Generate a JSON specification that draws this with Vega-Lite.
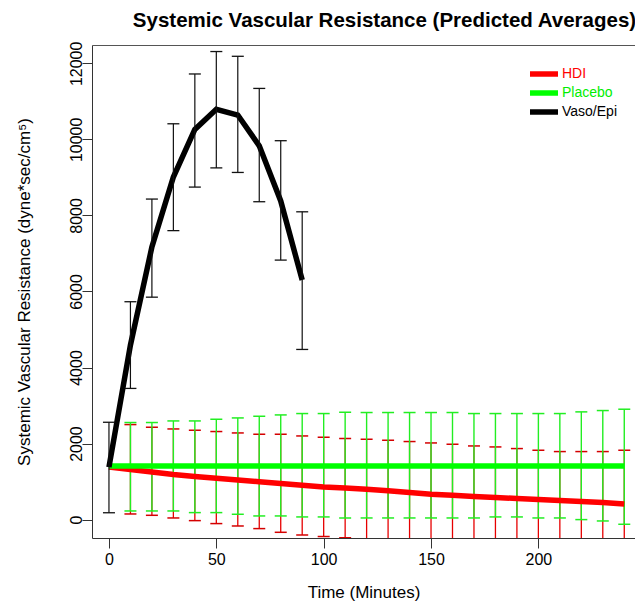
{
  "$schema": "https://vega.github.io/schema/vega-lite/v6.json",
  "autosize": {"type": "none"},
  "padding": {"left": 92, "top": 45, "right": 0, "bottom": 64},
  "width": 543,
  "height": 493,
  "background": "white",
  "title": {"text": "Systemic Vascular Resistance (Predicted Averages)", "fontSize": 20.5, "font": "Liberation Sans", "fontWeight": "bold", "color": "black", "anchor": "middle", "dx": 21, "offset": 10},
  "config": {
    "view": {"stroke": null},
    "axis": {"labelFont": "Liberation Sans", "titleFont": "Liberation Sans", "labelFontSize": 16, "titleFontSize": 17, "titleFontWeight": "normal", "labelColor": "black", "titleColor": "black", "tickColor": "#333", "domainColor": "#333", "tickSize": 10, "grid": false, "labelFlush": false, "labelOverlap": false}
  },
  "datasets": {
    "d": [
      {"group": "HDI", "t": 0, "v": 1380, "lo": null, "hi": null},
      {"group": "HDI", "t": 10, "v": 1316, "lo": 148, "hi": 2499},
      {"group": "HDI", "t": 20, "v": 1253, "lo": 113, "hi": 2429},
      {"group": "HDI", "t": 30, "v": 1184, "lo": 43, "hi": 2384},
      {"group": "HDI", "t": 40, "v": 1135, "lo": -27, "hi": 2350},
      {"group": "HDI", "t": 50, "v": 1090, "lo": -105, "hi": 2316},
      {"group": "HDI", "t": 60, "v": 1040, "lo": -168, "hi": 2279},
      {"group": "HDI", "t": 70, "v": 995, "lo": -237, "hi": 2245},
      {"group": "HDI", "t": 80, "v": 950, "lo": -334, "hi": 2245},
      {"group": "HDI", "t": 90, "v": 905, "lo": -405, "hi": 2200},
      {"group": "HDI", "t": 100, "v": 858, "lo": -445, "hi": 2166},
      {"group": "HDI", "t": 110, "v": 830, "lo": -475, "hi": 2132},
      {"group": "HDI", "t": 120, "v": 800, "lo": -513, "hi": 2113},
      {"group": "HDI", "t": 130, "v": 760, "lo": -567, "hi": 2087},
      {"group": "HDI", "t": 140, "v": 715, "lo": -623, "hi": 2053},
      {"group": "HDI", "t": 150, "v": 665, "lo": -686, "hi": 2016},
      {"group": "HDI", "t": 160, "v": 640, "lo": -702, "hi": 1982},
      {"group": "HDI", "t": 170, "v": 610, "lo": -717, "hi": 1937},
      {"group": "HDI", "t": 180, "v": 580, "lo": -751, "hi": 1911},
      {"group": "HDI", "t": 190, "v": 555, "lo": -758, "hi": 1868},
      {"group": "HDI", "t": 200, "v": 530, "lo": -764, "hi": 1824},
      {"group": "HDI", "t": 210, "v": 505, "lo": -779, "hi": 1789},
      {"group": "HDI", "t": 220, "v": 475, "lo": -839, "hi": 1789},
      {"group": "HDI", "t": 230, "v": 450, "lo": -889, "hi": 1789},
      {"group": "HDI", "t": 240, "v": 410, "lo": -1004, "hi": 1824},
      {"group": "Placebo", "t": 0, "v": 1410, "lo": null, "hi": null},
      {"group": "Placebo", "t": 10, "v": 1410, "lo": 227, "hi": 2553},
      {"group": "Placebo", "t": 20, "v": 1410, "lo": 227, "hi": 2553},
      {"group": "Placebo", "t": 30, "v": 1410, "lo": 227, "hi": 2595},
      {"group": "Placebo", "t": 40, "v": 1410, "lo": 184, "hi": 2595},
      {"group": "Placebo", "t": 50, "v": 1410, "lo": 184, "hi": 2639},
      {"group": "Placebo", "t": 60, "v": 1410, "lo": 140, "hi": 2674},
      {"group": "Placebo", "t": 70, "v": 1410, "lo": 96, "hi": 2718},
      {"group": "Placebo", "t": 80, "v": 1410, "lo": 96, "hi": 2753},
      {"group": "Placebo", "t": 90, "v": 1410, "lo": 70, "hi": 2789},
      {"group": "Placebo", "t": 100, "v": 1410, "lo": 70, "hi": 2789},
      {"group": "Placebo", "t": 110, "v": 1410, "lo": 43, "hi": 2824},
      {"group": "Placebo", "t": 120, "v": 1410, "lo": 43, "hi": 2816},
      {"group": "Placebo", "t": 130, "v": 1410, "lo": 43, "hi": 2816},
      {"group": "Placebo", "t": 140, "v": 1410, "lo": 43, "hi": 2816},
      {"group": "Placebo", "t": 150, "v": 1410, "lo": 43, "hi": 2816},
      {"group": "Placebo", "t": 160, "v": 1410, "lo": 43, "hi": 2816},
      {"group": "Placebo", "t": 170, "v": 1410, "lo": 43, "hi": 2789},
      {"group": "Placebo", "t": 180, "v": 1410, "lo": 70, "hi": 2789},
      {"group": "Placebo", "t": 190, "v": 1410, "lo": 70, "hi": 2789},
      {"group": "Placebo", "t": 200, "v": 1410, "lo": 43, "hi": 2789},
      {"group": "Placebo", "t": 210, "v": 1410, "lo": 43, "hi": 2789},
      {"group": "Placebo", "t": 220, "v": 1410, "lo": 0, "hi": 2833},
      {"group": "Placebo", "t": 230, "v": 1410, "lo": -36, "hi": 2868},
      {"group": "Placebo", "t": 240, "v": 1410, "lo": -123, "hi": 2903},
      {"group": "Vaso/Epi", "t": 0, "v": 1380, "lo": 180, "hi": 2560},
      {"group": "Vaso/Epi", "t": 10, "v": 4590, "lo": 3450, "hi": 5730},
      {"group": "Vaso/Epi", "t": 20, "v": 7170, "lo": 5850, "hi": 8430},
      {"group": "Vaso/Epi", "t": 30, "v": 9010, "lo": 7600, "hi": 10410},
      {"group": "Vaso/Epi", "t": 40, "v": 10260, "lo": 8745, "hi": 11720},
      {"group": "Vaso/Epi", "t": 50, "v": 10790, "lo": 9250, "hi": 12310},
      {"group": "Vaso/Epi", "t": 60, "v": 10640, "lo": 9130, "hi": 12185},
      {"group": "Vaso/Epi", "t": 70, "v": 9830, "lo": 8360, "hi": 11340},
      {"group": "Vaso/Epi", "t": 80, "v": 8380, "lo": 6825, "hi": 9965},
      {"group": "Vaso/Epi", "t": 90, "v": 6300, "lo": 4475, "hi": 8095}
    ]
  },
  "data": {"name": "d"},
  "resolve": {"axis": {"x": "independent"}},
  "layer": [
    {
      "transform": [{"filter": "datum.group == 'HDI' && isValid(datum.lo)"}],
      "mark": {"type": "rule", "color": "#e60000", "strokeWidth": 1.3, "clip": true},
      "encoding": {
        "x": {"field": "t", "type": "quantitative", "scale": {"domain": [-7.9, 245], "nice": false, "zero": false}, "axis": {"orient": "bottom", "values": [0, 50, 100, 150, 200], "title": "Time (Minutes)", "labelPadding": 3, "titlePadding": 17}},
        "y": {"field": "lo", "type": "quantitative", "scale": {"domain": [-484, 12482], "nice": false, "zero": false}, "axis": {"values": [0, 2000, 4000, 6000, 8000, 10000, 12000], "format": "d", "labelAngle": -90, "labelPadding": -2, "title": "Systemic Vascular Resistance (dyne*sec/cm⁵)", "titlePadding": 35}},
        "y2": {"field": "hi"}
      }
    },
    {
      "transform": [{"filter": "datum.group == 'HDI' && isValid(datum.lo)"}],
      "mark": {"type": "tick", "orient": "horizontal", "color": "#d40000", "size": 12, "thickness": 1.5, "opacity": 1, "clip": true},
      "encoding": {
        "x": {"field": "t", "type": "quantitative", "axis": {"orient": "top", "domain": true, "ticks": false, "labels": false, "title": null, "domainColor": "#555"}},
        "y": {"field": "hi", "type": "quantitative"}
      }
    },
    {
      "transform": [{"filter": "datum.group == 'HDI' && isValid(datum.lo)"}],
      "mark": {"type": "tick", "orient": "horizontal", "color": "#d40000", "size": 12, "thickness": 1.5, "opacity": 1, "clip": true},
      "encoding": {
        "x": {"field": "t", "type": "quantitative", "axis": null},
        "y": {"field": "lo", "type": "quantitative"}
      }
    },
    {
      "transform": [{"filter": "datum.group == 'Placebo' && isValid(datum.lo)"}],
      "mark": {"type": "rule", "color": "#22ee22", "strokeWidth": 1.4, "clip": true},
      "encoding": {
        "x": {"field": "t", "type": "quantitative", "axis": null},
        "y": {"field": "lo", "type": "quantitative"},
        "y2": {"field": "hi"}
      }
    },
    {
      "transform": [{"filter": "datum.group == 'Placebo' && isValid(datum.lo)"}],
      "mark": {"type": "tick", "orient": "horizontal", "color": "#22ee22", "size": 12, "thickness": 1.5, "opacity": 1, "clip": true},
      "encoding": {
        "x": {"field": "t", "type": "quantitative", "axis": null},
        "y": {"field": "hi", "type": "quantitative"}
      }
    },
    {
      "transform": [{"filter": "datum.group == 'Placebo' && isValid(datum.lo)"}],
      "mark": {"type": "tick", "orient": "horizontal", "color": "#22ee22", "size": 12, "thickness": 1.5, "opacity": 1, "clip": true},
      "encoding": {
        "x": {"field": "t", "type": "quantitative", "axis": null},
        "y": {"field": "lo", "type": "quantitative"}
      }
    },
    {
      "mark": {"type": "line", "clip": true},
      "encoding": {
        "x": {"field": "t", "type": "quantitative", "axis": null},
        "y": {"field": "v", "type": "quantitative"},
        "color": {"field": "group", "type": "nominal", "scale": {"domain": ["HDI", "Placebo", "Vaso/Epi"], "range": ["#ff0000", "#00ff00", "#000000"]},
          "legend": {"orient": "none", "legendX": 444, "legendY": 21, "title": null, "symbolType": "M-2.8,0H2.8", "symbolSize": 100, "symbolStrokeWidth": 4, "labelFont": "Liberation Sans", "labelFontSize": 14, "labelOffset": 10, "rowPadding": -9, "padding": 0,
            "encode": {"labels": {"update": {"fill": {"signal": "datum.label == 'HDI' ? '#ff0000' : datum.label == 'Placebo' ? '#00ee00' : '#000000'"}}}}}},
        "strokeWidth": {"field": "group", "type": "nominal", "scale": {"domain": ["HDI", "Placebo", "Vaso/Epi"], "range": [5.5, 5.5, 3.8]}, "legend": null}
      }
    },
    {
      "transform": [{"filter": "datum.group == 'Vaso/Epi'"}],
      "mark": {"type": "rule", "color": "#111", "strokeWidth": 1.2},
      "encoding": {
        "x": {"field": "t", "type": "quantitative", "axis": null},
        "y": {"field": "lo", "type": "quantitative"},
        "y2": {"field": "hi"}
      }
    },
    {
      "transform": [{"filter": "datum.group == 'Vaso/Epi'"}],
      "mark": {"type": "tick", "orient": "horizontal", "color": "#111", "size": 12, "thickness": 1.3, "opacity": 1},
      "encoding": {
        "x": {"field": "t", "type": "quantitative", "axis": null},
        "y": {"field": "hi", "type": "quantitative"}
      }
    },
    {
      "transform": [{"filter": "datum.group == 'Vaso/Epi'"}],
      "mark": {"type": "tick", "orient": "horizontal", "color": "#111", "size": 12, "thickness": 1.3, "opacity": 1},
      "encoding": {
        "x": {"field": "t", "type": "quantitative", "axis": null},
        "y": {"field": "lo", "type": "quantitative"}
      }
    }
  ]
}
